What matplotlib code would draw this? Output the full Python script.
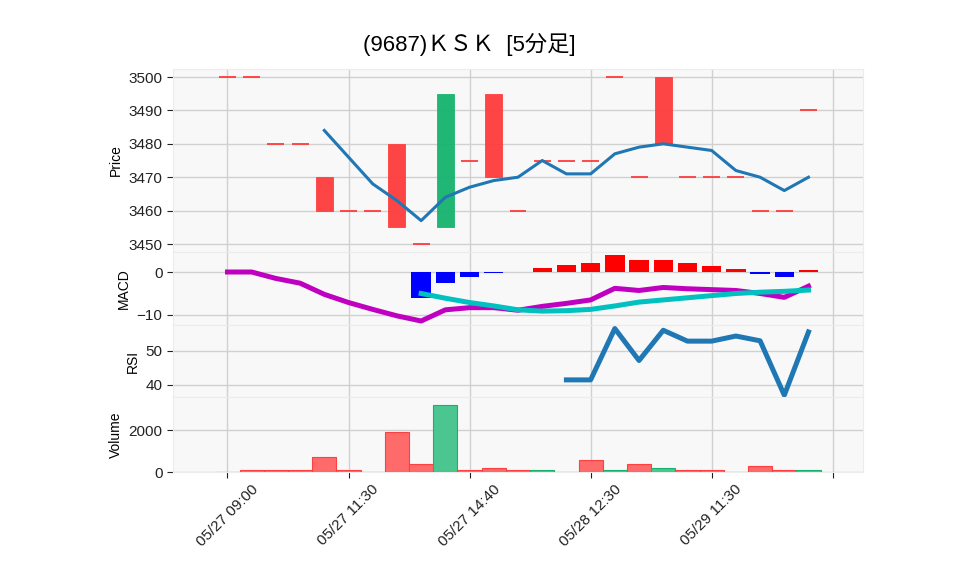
import numpy as np
import matplotlib
matplotlib.use("Agg")
import matplotlib.pyplot as plt

plt.rcParams['font.family'] = ['Liberation Sans', 'Noto Sans CJK JP', 'DejaVu Sans']

# ---------------------------------------------------------------------------
# Data
# ---------------------------------------------------------------------------
nan = np.nan
opens = [3500, 3500, 3480, 3480, 3470, 3460, 3460, 3480, 3450, 3455, 3475, 3495, 3460,
         3475, 3475, 3475, 3500, 3470, 3500, 3470, 3470, 3470, 3460, 3460, 3490]
closes = [3500, 3500, 3480, 3480, 3460, 3460, 3460, 3455, 3450, 3495, 3475, 3470, 3460,
          3475, 3475, 3475, 3500, 3470, 3480, 3470, 3470, 3470, 3460, 3460, 3490]
ma5 = [nan, nan, nan, nan, 3484, 3476, 3468, 3463, 3457, 3464, 3467, 3469, 3470,
       3475, 3471, 3471, 3477, 3479, 3480, 3479, 3478, 3472, 3470, 3466, 3470]
volume = [0, 100, 100, 100, 700, 100, 0, 1900, 400, 3200, 100, 200, 100,
          100, 0, 600, 100, 400, 200, 100, 100, 0, 300, 100, 100]
macd = [0, 0, -1.5, -2.6, -5.2, -7.1, -8.7, -10.2, -11.4, -8.8, -8.3, -8.3, -8.9,
        -8.0, -7.3, -6.5, -3.8, -4.3, -3.6, -3.9, -4.1, -4.3, -5.0, -5.9, -3.3]
signal = [nan] * 8 + [-5.0, -6.1, -7.1, -7.9, -8.8, -9.1, -9.0, -8.7, -7.9, -7.0,
                      -6.5, -6.0, -5.5, -5.0, -4.7, -4.5, -4.2]
hist = [nan] * 8 + [-6.1, -2.6, -1.1, -0.3, -0.1, 0.9, 1.6, 2.1, 3.9, 2.8,
                    2.8, 2.1, 1.4, 0.7, -0.4, -1.1, 0.5]
rsi = [nan] * 14 + [41.5, 41.5, 56.6, 47.2, 56.1, 52.9, 52.9, 54.4, 53.0, 37.0, 55.6]
tick_labels = ["05/27 09:00", "05/27 11:30", "05/27 14:40", "05/28 12:30", "05/29 11:30", ""]

title = "(9687)ＫＳＫ  [5分足]"

# ---------------------------------------------------------------------------
# Style
# ---------------------------------------------------------------------------
UP = "#16b36e"
DOWN = "#ff3b3b"
VOL_UP = "#4bc690"
VOL_DOWN = "#ff6b6b"
FACE = "#f8f8f8"
GRID = "#d0d0d0"

x = np.arange(len(closes))

fig = plt.figure(figsize=(9.58, 5.75), dpi=100)
left, width = 0.1806, 0.7202
ax_p = fig.add_axes([left, 0.5617, width, 0.3183])
ax_m = fig.add_axes([left, 0.4348, width, 0.1269], sharex=ax_p)
ax_r = fig.add_axes([left, 0.3096, width, 0.1252], sharex=ax_p)
ax_v = fig.add_axes([left, 0.1791, width, 0.1305], sharex=ax_p)

for ax in (ax_p, ax_m, ax_r, ax_v):
    ax.set_facecolor(FACE)
    ax.grid(True, color=GRID, linewidth=1.0)
    ax.set_axisbelow(True)
    for s in ax.spines.values():
        s.set_color("#ececec")
    ax.tick_params(axis="y", labelsize=11, length=4, colors="#222222")
    ax.tick_params(axis="x", length=0, labelbottom=False)

# ---- Price candles ---------------------------------------------------------
cw = 0.7
for i in x:
    o, c = opens[i], closes[i]
    col = UP if c > o else DOWN
    if c == o:
        ax_p.hlines(c, i - cw / 2, i + cw / 2, color=DOWN, linewidth=1.3, zorder=3)
    else:
        ax_p.bar(i, abs(c - o), bottom=min(o, c), width=cw, color=col,
                 alpha=0.95, edgecolor=col, linewidth=0.6, zorder=3)
ax_p.plot(x, ma5, color="#1f77b4", linewidth=2.2, zorder=4)
ax_p.set_ylim(3447.6, 3502.4)
ax_p.set_yticks([3450, 3460, 3470, 3480, 3490, 3500])
ax_p.set_ylabel("Price", fontsize=10)

# ---- MACD ------------------------------------------------------------------
hcol = ["#ff0000" if (h >= 0) else "#0000ff" for h in np.nan_to_num(hist)]
ax_m.bar(x, np.nan_to_num(hist), width=0.8, color=hcol, zorder=3)
ax_m.plot(x, macd, color="#c000c0", linewidth=3.6, zorder=4)
ax_m.plot(x, signal, color="#00c0c0", linewidth=3.6, zorder=5)
ax_m.set_ylim(-12.33, 4.65)
ax_m.set_yticks([-10, 0])
ax_m.set_yticklabels(["\u221210", "0"])
ax_m.set_ylabel("MACD", fontsize=10)

# ---- RSI -------------------------------------------------------------------
ax_r.plot(x, rsi, color="#1f77b4", linewidth=3.6, zorder=4)
ax_r.set_ylim(36.47, 57.65)
ax_r.set_yticks([40, 50])
ax_r.set_ylabel("RSI", fontsize=10)

# ---- Volume ----------------------------------------------------------------
vcol, ecol = [], []
for i in x:
    up = i > 0 and closes[i] > closes[i - 1]
    vcol.append(VOL_UP if up else VOL_DOWN)
    ecol.append(UP if up else "#ff4040")
ax_v.bar(x, volume, width=1.0, color=vcol, edgecolor=ecol, linewidth=0.8, zorder=3)
ax_v.set_ylim(0, 3600)
ax_v.set_yticks([0, 2000])
ax_v.set_ylabel("Volume", fontsize=10)

ax_v.set_xlim(-2.25, 26.25)
ax_v.set_xticks(np.arange(0, 26, 5))
ax_v.set_xticklabels(tick_labels, rotation=45, ha="center")
ax_v.tick_params(axis="x", length=4, labelsize=11, colors="#222222", labelbottom=True)

fig.suptitle(title, x=0.49, y=0.942, fontsize=16)

fig.savefig("out.png", dpi=100)
